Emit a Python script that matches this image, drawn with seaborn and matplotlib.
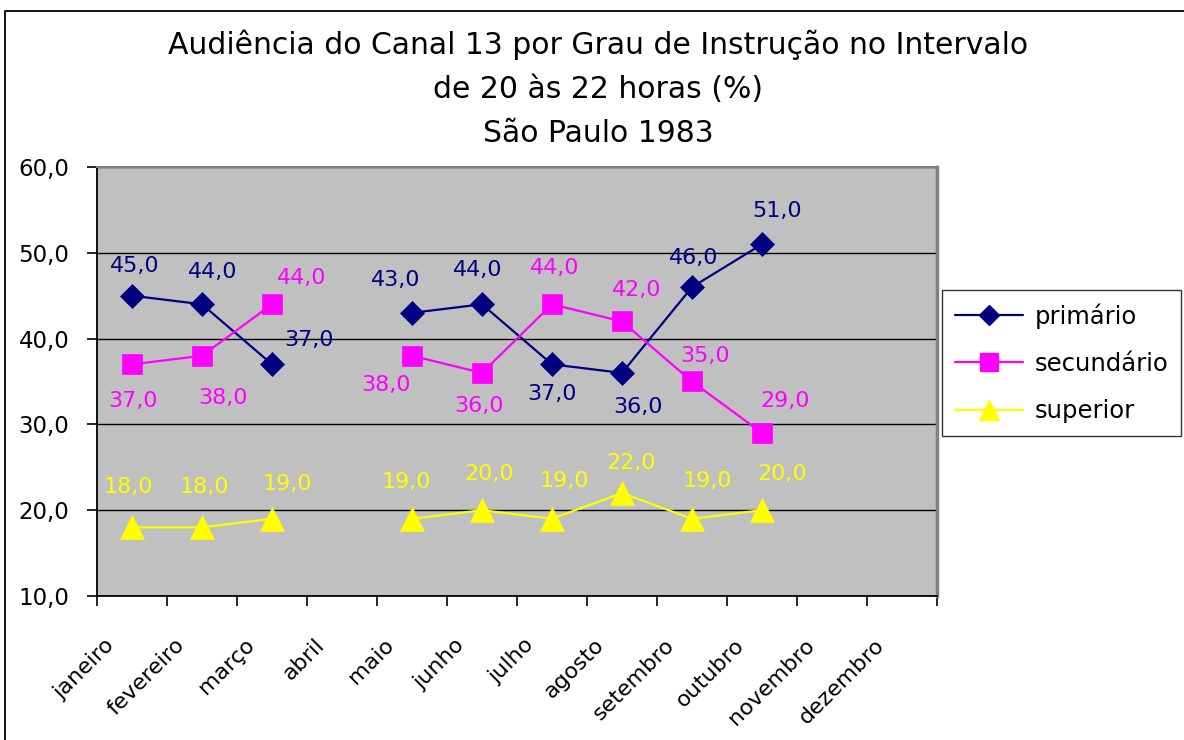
import numpy as np
import pandas as pd
import matplotlib
matplotlib.use("Agg")
import matplotlib.pyplot as plt
from matplotlib.lines import Line2D
from matplotlib.transforms import ScaledTranslation
import seaborn as sns

# ---- dados -------------------------------------------------------------
meses = ["janeiro", "fevereiro", "março", "abril", "maio", "junho",
         "julho", "agosto", "setembro", "outubro", "novembro", "dezembro"]
nan = np.nan
primario = [45.0, 44.0, 37.0, nan, 43.0, 44.0, 37.0, 36.0, 46.0, 51.0, nan, nan]
secundario = [37.0, 38.0, 44.0, nan, 38.0, 36.0, 44.0, 42.0, 35.0, 29.0, nan, nan]
superior = [18.0, 18.0, 19.0, nan, 19.0, 20.0, 19.0, 22.0, 19.0, 20.0, nan, nan]
series = ["primário", "secundário", "superior"]
y_ticks = [10, 20, 30, 40, 50, 60]
titulo = ("Audiência do Canal 13 por Grau de Instrução no Intervalo\n"
          "de 20 às 22 horas (%)\nSão Paulo 1983")

# ---- estilo ------------------------------------------------------------
sns.set_theme(style="white")
plt.rcParams["font.family"] = ["DejaVu Sans"]
plt.rcParams["text.color"] = "black"
plt.rcParams["xtick.color"] = "black"
plt.rcParams["ytick.color"] = "black"

cores = {"primário": "#000080", "secundário": "#FF00FF", "superior": "#FFFF00"}
marcadores = {"primário": "D", "secundário": "s", "superior": "^"}
tam_marcador = {"primário": 12, "secundário": 15, "superior": 17}

# deslocamento dos rótulos de valor (pixels: direita, cima)
desloc = {
    "primário": [(3, 30), (11, 32), (37, 24), None, (-16, 33), (-4, 34),
                 (0, -30), (16, -34), (2, 29), (15, 33), None, None],
    "secundário": [(1, -37), (21, -42), (30, 26), None, (-26, -29), (-3, -33),
                   (3, 36), (15, 31), (13, 25), (23, 32), None, None],
    "superior": [(-4, 40), (2, 40), (15, 35), None, (-6, 37), (7, 36),
                 (12, 38), (9, 30), (15, 38), (20, 36), None, None],
}

# tabela longa; cada trecho contínuo vira uma unidade própria
valores = {"primário": primario, "secundário": secundario, "superior": superior}
linhas = []
for s in series:
    trecho = 0
    for i, v in enumerate(valores[s]):
        if np.isnan(v):
            trecho += 1
            continue
        linhas.append({"serie": s, "pos": i, "valor": v, "trecho": trecho})
df = pd.DataFrame(linhas)

W, H = 1184, 740
fig = plt.figure(figsize=(W / 100, H / 100), dpi=100)
fig.patch.set_facecolor("white")

# moldura do gráfico (lados esquerdo e superior)
fig.add_artist(Line2D([5 / W, 5 / W, 1.0], [0.0, 1 - 11 / H, 1 - 11 / H],
                      transform=fig.transFigure, color="black", lw=1.3))

ax = fig.add_axes([97 / W, 1 - 596 / H, 840 / W, 429 / H])
ax.set_facecolor("#C0C0C0")
ax.set_axisbelow(True)

for s in series:
    sns.lineplot(data=df[df["serie"] == s], x="pos", y="valor",
                 units="trecho", estimator=None, ax=ax,
                 color=cores[s], lw=1.6, marker=marcadores[s],
                 markersize=tam_marcador[s], markeredgecolor=cores[s],
                 markeredgewidth=0.5, legend=False, zorder=3)
    for i, v in enumerate(valores[s]):
        if np.isnan(v):
            continue
        dx, dy = desloc[s][i]
        ax.annotate(f"{v:.1f}".replace(".", ","), xy=(i, v),
                    xytext=(dx, dy), textcoords="offset pixels",
                    ha="center", va="center", fontsize=16,
                    color=cores[s], zorder=4)

ax.set_xlim(-0.5, 11.5)
ax.set_ylim(10, 60)
ax.set_yticks(y_ticks)
ax.set_yticklabels([f"{t:.1f}".replace(".", ",") for t in y_ticks])
ax.yaxis.grid(True, color="black", lw=1.0)
ax.set_xlabel("")
ax.set_ylabel("")

ax.set_xticks(range(len(meses)))
ax.set_xticklabels(meses, rotation=45, ha="right", va="center",
                   rotation_mode="anchor")
ax.set_xticks(np.arange(-0.5, 12, 1.0), minor=True)
ax.tick_params(axis="x", which="major", length=0, pad=33, labelsize=16,
               labelcolor="black")
ax.tick_params(axis="x", which="minor", length=7, width=1.2,
               color="black", direction="out", bottom=True)
ax.tick_params(axis="y", length=7, width=1.2, color="black",
               direction="out", left=True, pad=13, labelsize=16.5,
               labelcolor="black")
desl = ScaledTranslation(-21 / 100, 0, fig.dpi_scale_trans)
for lbl in ax.get_xticklabels():
    lbl.set_transform(lbl.get_transform() + desl)

for lado in ["left", "bottom"]:
    ax.spines[lado].set_color("black")
    ax.spines[lado].set_linewidth(1.3)
ax.spines["top"].set_color("#808080")
ax.spines["top"].set_linewidth(1.5)
ax.spines["right"].set_color("#808080")
ax.spines["right"].set_linewidth(2.5)

fig.text(598 / W, 1 - 89 / H, titulo, ha="center", va="center",
         multialignment="center", fontsize=21.5, linespacing=1.66,
         color="black")

alcas = [Line2D([], [], color=cores[s], lw=1.6, marker=marcadores[s],
                markersize=tam_marcador[s] * 0.85, markeredgecolor=cores[s])
         for s in series]
leg = fig.legend(alcas, series, loc="upper left",
                 bbox_to_anchor=(942 / W, 1 - 290 / H),
                 bbox_transform=fig.transFigure, borderaxespad=0,
                 frameon=True, fancybox=False, shadow=False,
                 fontsize=17.5, handlelength=2.8, handletextpad=0.45,
                 labelspacing=0.95, borderpad=0.55)
leg.get_frame().set_edgecolor("black")
leg.get_frame().set_linewidth(1.0)
leg.get_frame().set_facecolor("white")
for t in leg.get_texts():
    t.set_color("black")

fig.savefig("out.png", dpi=100, facecolor="white")
